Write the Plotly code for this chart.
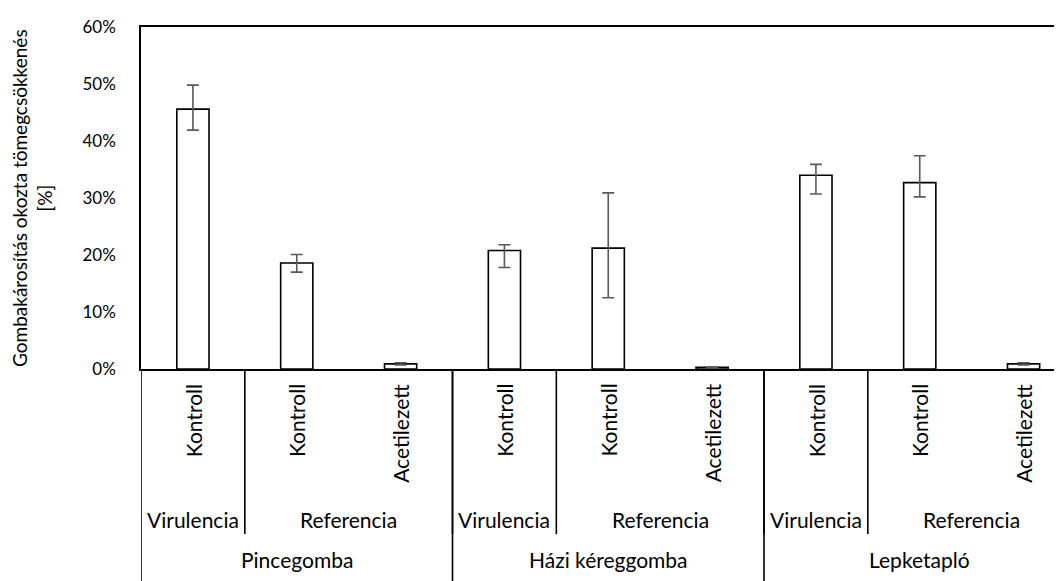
import plotly.graph_objects as go

# category hierarchy (one entry per bar)
treatments = ["Kontroll", "Kontroll", "Acetilezett",
              "Kontroll", "Kontroll", "Acetilezett",
              "Kontroll", "Kontroll", "Acetilezett"]
tests = ["Virulencia", "Referencia", "Referencia",
         "Virulencia", "Referencia", "Referencia",
         "Virulencia", "Referencia", "Referencia"]
fungi = ["Pincegomba", "Pincegomba", "Pincegomba",
         "Házi kéreggomba", "Házi kéreggomba", "Házi kéreggomba",
         "Lepketapló", "Lepketapló", "Lepketapló"]

# mass loss [%] and error bar extents
mass_loss = [45.6, 18.6, 0.9, 20.8, 21.2, 0.3, 34.0, 32.7, 0.9]
err_plus = [4.2, 1.5, 0.2, 1.0, 9.7, 0.1, 1.9, 4.7, 0.2]
err_minus = [3.7, 1.6, 0.2, 3.0, 8.7, 0.1, 3.3, 2.5, 0.2]

W, H = 1062, 581
OFF = 8                    # page body margin
PL, PT, PB = 141, 21, 369  # plot area in screen pixels (left, top, bottom)
PR = 1062                  # visible right edge (plot runs past it)
FONT = "Lato, Calibri, Carlito, sans-serif"


def py(pix):
    # screen pixel row -> paper y
    return (PB - pix) / (PB - PT)


def px(pix):
    # screen pixel column -> paper x
    return (pix - PL) / (PR - PL)


xs = list(range(len(treatments)))

fig = go.Figure()
fig.add_trace(go.Bar(
    x=xs,
    y=[v / 100 for v in mass_loss],
    width=0.31,
    marker=dict(color="white", line=dict(color="black", width=1.6)),
    error_y=dict(
        type="data", symmetric=False,
        array=[e / 100 for e in err_plus],
        arrayminus=[e / 100 for e in err_minus],
        color="#595959", thickness=1.6, width=6
    ),
    showlegend=False,
))

shapes = []
annotations = []
label_font = dict(family=FONT, size=21, color="black")

# level 1: treatment labels (rotated)
for i, t in enumerate(treatments):
    annotations.append(dict(
        x=i, y=py(382), xref="x", yref="paper", text=t, textangle=-90,
        showarrow=False, xanchor="center", yanchor="top", font=label_font
    ))


def runs(labels, parent=None):
    out = []
    start = 0
    for i in range(1, len(labels) + 1):
        if i == len(labels) or labels[i] != labels[start] or \
                (parent is not None and parent[i] != parent[start]):
            out.append((labels[start], start, i - 1))
            start = i
    return out


# level 2: test type
for name, a, b in runs(tests, fungi):
    annotations.append(dict(
        x=(a + b) / 2, y=py(522), xref="x", yref="paper", text=name,
        showarrow=False, xanchor="center", yanchor="middle", font=label_font
    ))
    if a > 0:
        shapes.append(dict(type="line", xref="x", yref="paper",
                           x0=a - 0.5, x1=a - 0.5, y0=0, y1=py(537),
                           line=dict(color="black", width=1.6)))

# level 3: fungus
for name, a, b in runs(fungi):
    annotations.append(dict(
        x=(a + b) / 2, y=py(563), xref="x", yref="paper", text=name,
        showarrow=False, xanchor="center", yanchor="middle", font=label_font
    ))
    shapes.append(dict(type="line", xref="x", yref="paper",
                       x0=a - 0.5, x1=a - 0.5, y0=0, y1=py(H + 10),
                       line=dict(color="black", width=1.6)))

# y axis title
annotations.append(dict(
    x=px(32), y=py(195), xref="paper", yref="paper",
    xanchor="center", yanchor="middle",
    text="Gombakárosítás okozta tömegcsökkenés<br>[%]", textangle=-90,
    showarrow=False, font=dict(family=FONT, size=19, color="black")
))

fig.update_layout(
    width=W, height=H,
    margin=dict(l=PL - OFF, r=W - (PR - OFF), t=PT - OFF,
                b=H - (PB - OFF), pad=0),
    plot_bgcolor="white", paper_bgcolor="white",
    shapes=shapes, annotations=annotations,
    xaxis=dict(range=[-0.5, 8.37], showticklabels=False, ticks="",
               showgrid=False, zeroline=False,
               showline=True, mirror=True, linecolor="black", linewidth=1.6),
    yaxis=dict(range=[0, 0.6], dtick=0.1, tickformat=".0%",
               showgrid=False, zeroline=False, ticks="",
               showline=True, linecolor="black", linewidth=1.6,
               tickfont=dict(family=FONT, size=17, color="black"),
               ticklabelstandoff=20),
)

fig.write_html("out.html")
